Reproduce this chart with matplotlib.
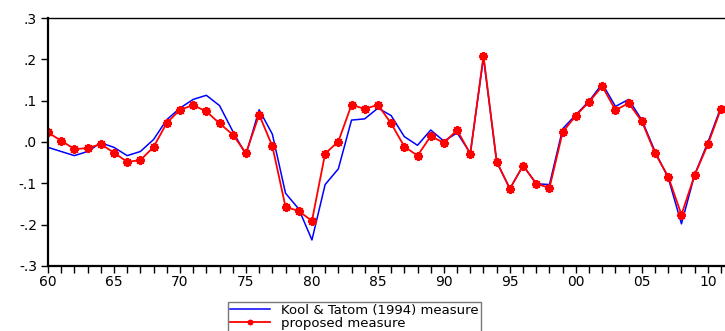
import matplotlib
matplotlib.use("Agg")
import matplotlib.pyplot as plt
from matplotlib.ticker import MultipleLocator, FuncFormatter

plt.rcParams["font.family"] = ["DejaVu Sans"]

years = list(range(1960, 2012))

# Kool & Tatom (1994) measure
kool_tatom = [
    -0.013, -0.023, -0.033, -0.023, -0.002, -0.013, -0.033, -0.023, 0.006, 0.054,
    0.082, 0.103, 0.113, 0.088, 0.026, -0.031, 0.078, 0.019, -0.124, -0.162,
    -0.237, -0.103, -0.065, 0.053, 0.056, 0.082, 0.064, 0.013, -0.008, 0.029,
    0.002, 0.022, -0.027, 0.204, -0.048, -0.113, -0.057, -0.101, -0.103, 0.032,
    0.066, 0.099, 0.141, 0.086, 0.103, 0.053, -0.023, -0.087, -0.198, -0.079,
    -0.001, 0.085,
]

# proposed measure
proposed = [
    0.023, 0.003, -0.017, -0.015, -0.005, -0.026, -0.048, -0.044, -0.012, 0.046,
    0.078, 0.089, 0.074, 0.045, 0.018, -0.027, 0.066, -0.010, -0.157, -0.167,
    -0.191, -0.028, 0.001, 0.090, 0.080, 0.090, 0.045, -0.011, -0.033, 0.014,
    -0.002, 0.029, -0.029, 0.209, -0.048, -0.113, -0.057, -0.101, -0.111, 0.024,
    0.064, 0.097, 0.135, 0.077, 0.094, 0.050, -0.027, -0.084, -0.176, -0.080,
    -0.006, 0.081,
]

fig = plt.figure(figsize=(7.25, 3.31), dpi=100)
ax = fig.add_axes([0.0662, 0.1964, 0.9338, 0.7492])

ax.plot(years, kool_tatom, color="#0000ff", lw=1.1, label="Kool & Tatom (1994) measure")
ax.plot(years, proposed, color="#ff0000", lw=1.3, marker=(8, 2, 0), ms=6.5,
        mew=1.4, mec="#ff0000", label="proposed measure")

ax.set_xlim(1960, 2011.3)
ax.set_ylim(-0.3, 0.3)

ax.xaxis.set_major_locator(MultipleLocator(5))
ax.xaxis.set_minor_locator(MultipleLocator(1))
ax.xaxis.set_major_formatter(FuncFormatter(lambda v, p: f"{int(v) % 100:02d}"))
ax.yaxis.set_major_locator(MultipleLocator(0.1))
ax.yaxis.set_major_formatter(
    FuncFormatter(lambda v, p: ("-" if v < -1e-9 else "") + f"{abs(v):.1f}".lstrip("0")))

ax.tick_params(axis="x", which="both", direction="out", length=5, width=1, labelsize=10, pad=1.5)
ax.tick_params(axis="y", which="both", direction="out", length=5, width=1, labelsize=10, pad=3)
ax.tick_params(axis="x", which="minor", top=False)

for side in ["left", "bottom"]:
    ax.spines[side].set_linewidth(1.6)
ax.spines["top"].set_linewidth(1.0)
ax.spines["right"].set_visible(False)

# legend box hangs off the bottom edge, second entry partly clipped
leg = ax.legend(loc="upper left", bbox_to_anchor=(228 / 725, 1 - 302 / 331),
                bbox_transform=fig.transFigure, frameon=True, fancybox=False,
                fontsize=9.5, handlelength=3.0, borderpad=0.15, labelspacing=0.0,
                borderaxespad=0, handletextpad=0.9, markerscale=0.6)
leg.get_frame().set_edgecolor("#555555")
leg.get_frame().set_linewidth(1.0)

fig.savefig("out.png", dpi=100)
